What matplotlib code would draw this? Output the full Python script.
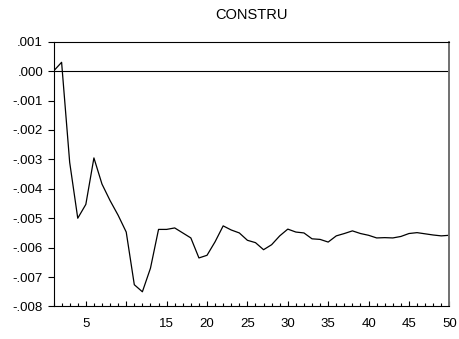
import matplotlib
matplotlib.use("Agg")
import matplotlib.pyplot as plt
from matplotlib.ticker import FuncFormatter, MultipleLocator, FixedLocator

# Response of CONSTRU over 50 periods
periods = list(range(1, 51))
response = [
    0.0000, 0.0003, -0.0031, -0.0050, -0.00453, -0.00295, -0.00384, -0.0044, -0.0049, -0.00547,
    -0.00726, -0.0075, -0.0067, -0.00538, -0.00538, -0.00533, -0.0055, -0.00567, -0.00635, -0.00626,
    -0.0058, -0.00526, -0.0054, -0.0055, -0.00575, -0.00583, -0.00607, -0.0059, -0.0056, -0.00537,
    -0.00547, -0.0055, -0.0057, -0.00572, -0.00581, -0.0056, -0.00552, -0.00543, -0.00552, -0.00558,
    -0.00567, -0.00566, -0.00567, -0.00562, -0.00552, -0.00549, -0.00553, -0.00557, -0.0056, -0.00558,
]
title = "CONSTRU"
x_tick_values = [5, 10, 15, 20, 25, 30, 35, 40, 45, 50]
x_tick_labels = ["5", "", "15", "20", "25", "30", "35", "40", "45", "50"]
y_tick_values = [0.001, 0.0, -0.001, -0.002, -0.003, -0.004, -0.005, -0.006, -0.007, -0.008]

plt.rcParams["font.family"] = ["Liberation Sans", "DejaVu Sans"]

fig = plt.figure(figsize=(4.59, 3.39), dpi=100)
ax = fig.add_axes([0.1166, 0.0959, 0.979 - 0.1166, 0.877 - 0.0959])

ax.plot(periods, response, color="black", lw=0.9)
ax.axhline(0.0, color="black", lw=0.8)

ax.set_xlim(1, 50)
ax.set_ylim(-0.008, 0.001)

def fmt(v, pos=None):
    s = f"{v:.3f}"
    if s.startswith("-0"):
        s = "-" + s[2:]
    elif s.startswith("0"):
        s = s[1:]
    return s

ax.yaxis.set_major_locator(FixedLocator(y_tick_values))
ax.yaxis.set_major_formatter(FuncFormatter(fmt))
ax.set_xticks(x_tick_values)
ax.set_xticklabels(x_tick_labels)
ax.xaxis.set_minor_locator(MultipleLocator(1))

ax.tick_params(axis="y", direction="out", length=4.5, width=0.8, labelsize=9.5, pad=3)
ax.tick_params(axis="x", which="major", direction="in", length=3.5, width=0.8, labelsize=9.5, pad=8.5)
ax.tick_params(axis="x", which="minor", direction="in", length=2.5, width=0.8)

for side in ["left", "bottom", "top"]:
    ax.spines[side].set_linewidth(0.8)
    ax.spines[side].set_color("black")
ax.spines["right"].set_linewidth(1.4)
ax.spines["right"].set_color("#707070")

ax.set_title(title, fontsize=10.5, pad=16)

fig.savefig("out.png", dpi=100)
